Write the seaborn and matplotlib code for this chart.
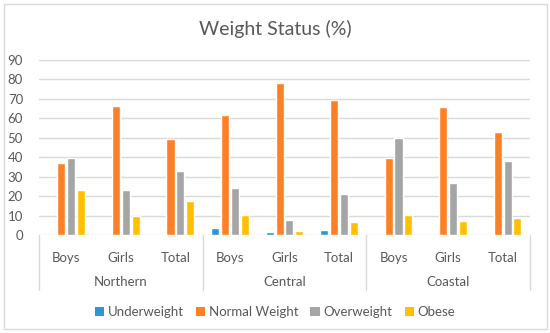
import matplotlib
matplotlib.use("Agg")
import matplotlib.pyplot as plt
import matplotlib.transforms as mtransforms
from matplotlib.patches import Rectangle, Patch
import seaborn as sns
import pandas as pd

regions = ["Northern", "Central", "Coastal"]
subgroups = ["Boys", "Girls", "Total"]
statuses = ["Underweight", "Normal Weight", "Overweight", "Obese"]

underweight = [0, 0, 0, 3.4, 1.4, 2.6, 0, 0, 0]
normal_weight = [37.0, 66.5, 49.2, 61.7, 78.3, 69.4, 39.4, 65.8, 53.1]
overweight = [39.6, 23.1, 32.7, 24.2, 7.5, 21.1, 49.9, 26.7, 37.9]
obese = [23.1, 9.9, 17.7, 10.3, 2.1, 6.5, 10.5, 7.2, 8.7]

yticks = [0, 10, 20, 30, 40, 50, 60, 70, 80, 90]
colors = ["#2E96D3", "#FF7F27", "#A5A5A5", "#FFC000"]

sns.set_theme(style="white")
plt.rcParams["font.family"] = ["Lato", "DejaVu Sans"]
text_color = "#595959"

cats = [f"{r}|{s}" for r in regions for s in subgroups]
series = [underweight, normal_weight, overweight, obese]
rows = []
for st, vals in zip(statuses, series):
    for c, v in zip(cats, vals):
        rows.append({"cat": c, "status": st, "value": v})
df = pd.DataFrame(rows)

fig = plt.figure(figsize=(5.5, 3.33), dpi=100)
ax = fig.add_axes([39 / 550, 1 - 235 / 333, (530 - 39) / 550, (235 - 60) / 333])

sns.barplot(data=df, x="cat", y="value", hue="status", order=cats,
            hue_order=statuses, palette=colors, width=0.72, gap=0.18,
            ax=ax, legend=False, saturation=1)

ax.set_xlim(-0.5, len(cats) - 0.5)
ax.set_ylim(0, 90)
ax.set_yticks(yticks)
ax.set_yticklabels([str(t) for t in yticks])
ax.yaxis.grid(True, color="#D9D9D9", linewidth=1.0)
ax.set_axisbelow(True)
for sp in ax.spines.values():
    sp.set_visible(False)
ax.set_xlabel("")
ax.set_ylabel("")
ax.set_xticks(range(len(cats)))
ax.set_xticklabels([c.split("|")[1] for c in cats])
ax.tick_params(axis="x", length=0, pad=12.5, labelsize=9.5, labelcolor=text_color)
ax.tick_params(axis="y", length=0, pad=11.5, labelsize=9.5, labelcolor=text_color)

trans = mtransforms.blended_transform_factory(ax.transData, ax.transAxes)
for i in range(len(regions) + 1):
    x = i * 3 - 0.5
    ax.plot([x, x], [0, -55 / 175], transform=trans, color="#D9D9D9",
            linewidth=1.0, clip_on=False)
for i, r in enumerate(regions):
    ax.text(i * 3 + 1, -(282 - 235) / 175, r, transform=trans, ha="center",
            va="center", fontsize=9.5, color=text_color)

fig.text(0.5, 1 - 29 / 333, "Weight Status (%)", ha="center", va="center",
         fontsize=14, color=text_color)

handles = [Patch(facecolor=c, edgecolor="none") for c in colors]
fig.legend(handles, statuses, loc="center", bbox_to_anchor=(0.5, 1 - 312 / 333),
           ncol=4, frameon=False, handlelength=0.7, handleheight=0.7,
           handletextpad=0.3, columnspacing=0.9, fontsize=9.5,
           labelcolor=text_color)

fig.patches.append(Rectangle((3.5 / 550, 1 - 329 / 333), 543 / 550, 325 / 333,
                             transform=fig.transFigure, fill=False,
                             edgecolor="#D9D9D9", linewidth=1.0))

fig.savefig("out.png", dpi=100)
